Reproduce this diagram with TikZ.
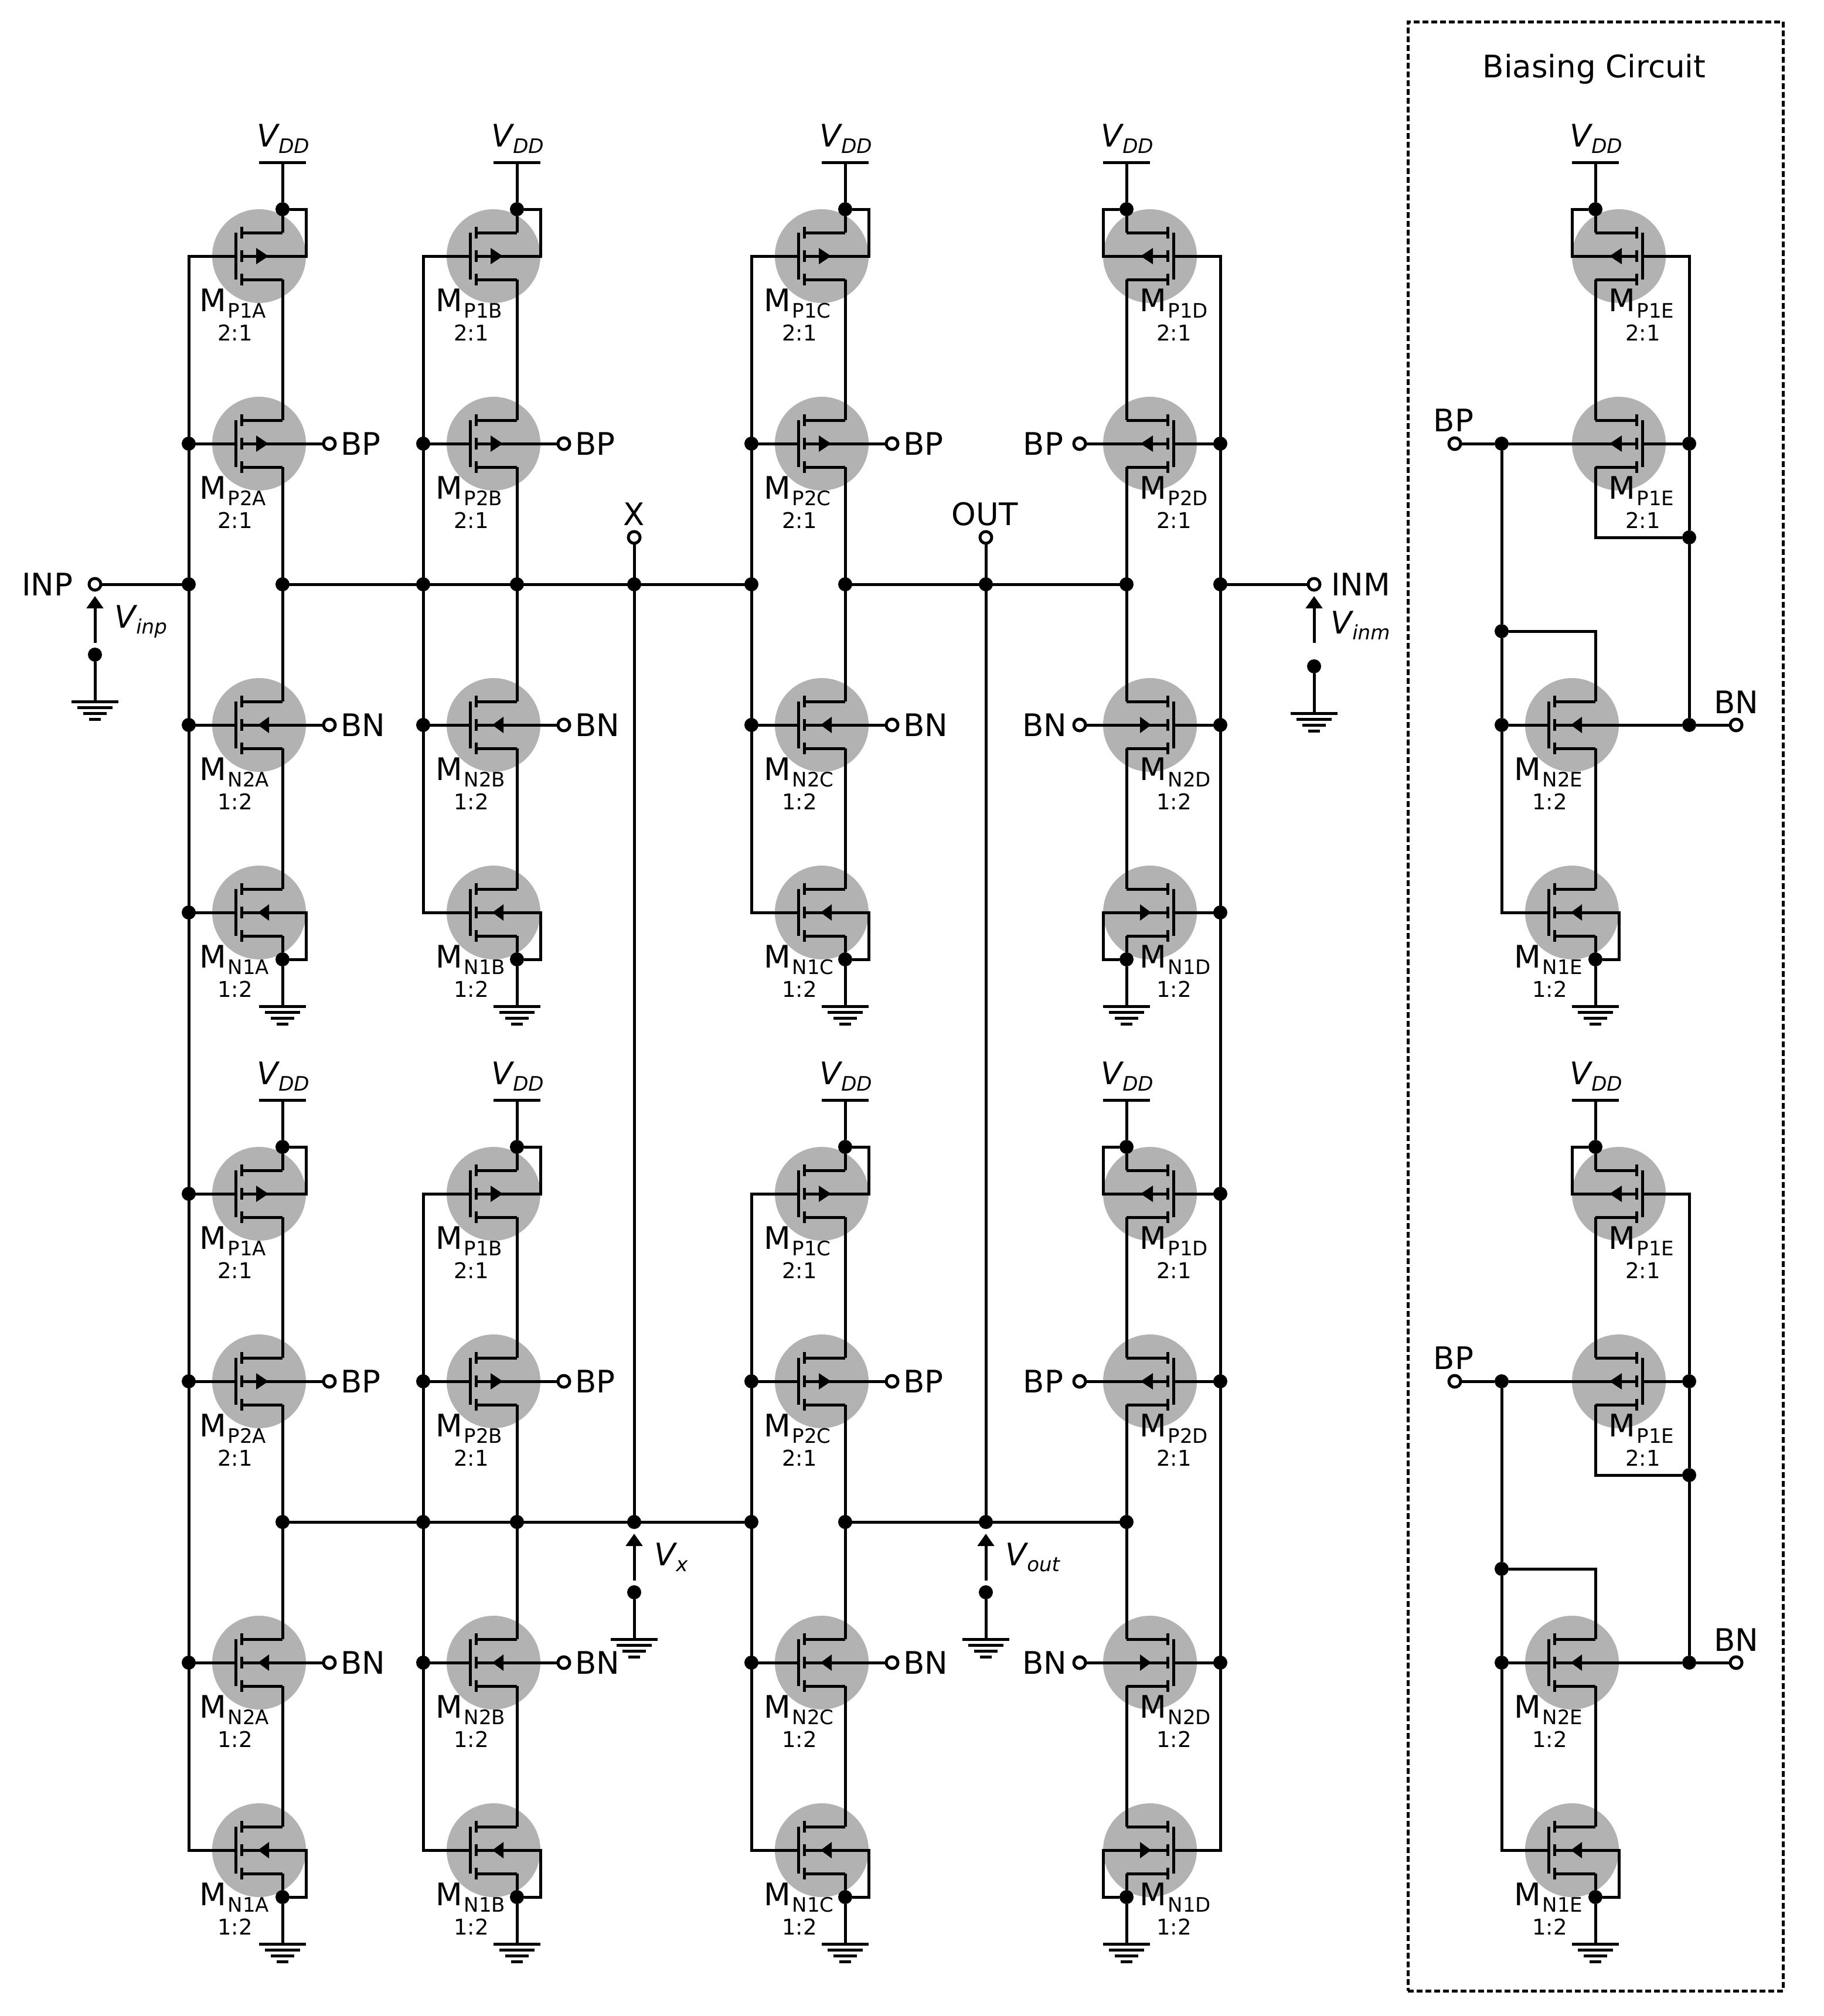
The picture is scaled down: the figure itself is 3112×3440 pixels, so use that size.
\documentclass[tikz,border=0pt]{standalone}
\usepackage{fontspec}
\setmainfont{DejaVu Sans}
\usetikzlibrary{arrows.meta}
\definecolor{discgray}{HTML}{B2B2B2}
\tikzset{
  wire/.style={line width=5pt,line join=miter,draw=black},
  fetdisc/.style={circle,fill=discgray,minimum size=160pt,inner sep=0pt,outer sep=0pt},
  junct/.style={circle,fill=black,minimum size=24pt,inner sep=0pt,outer sep=0pt},
  term/.style={circle,draw=black,fill=white,line width=5pt,minimum size=20pt,inner sep=0pt,outer sep=0pt},
  bigtxt/.style={inner sep=0pt,outer sep=0pt,font=\fontsize{53}{60}\selectfont},
  ratiotxt/.style={inner sep=0pt,outer sep=0pt,anchor=base,font=\fontsize{37}{44}\selectfont},
  meterarrow/.style={wire,-{Triangle[length=21pt,width=28pt]}},
}
\newcommand{\lsx}{0}
\newcommand{\subtxt}[2]{\lower#1pt\hbox{\fontsize{34}{40}\selectfont #2}}
% #1 name, #2 cx, #3 cy, #4 side (1 gate left, -1 gate right), #5 arrow (1 away from gate, -1 to gate), #6 subscript, #7 ratio
\newcommand{\fet}[7]{%
  \node[fetdisc] (#1) at (#2,#3) {};
  \coordinate (#1-gate) at (#2-40*#4,#3);
  \coordinate (#1-bulk) at (#2-30*#4,#3);
  \coordinate (#1-top) at (#2+40*#4,#3-40);
  \coordinate (#1-bot) at (#2+40*#4,#3+40);
  \draw[wire] (#2-40*#4,#3-40) -- (#2-40*#4,#3+40);
  \draw[wire] (#2-30*#4,#3-50) -- (#2-30*#4,#3-30);
  \draw[wire] (#2-30*#4,#3-10) -- (#2-30*#4,#3+10);
  \draw[wire] (#2-30*#4,#3+30) -- (#2-30*#4,#3+50);
  \draw[wire] (#2-30*#4,#3-40) -- (#1-top);
  \draw[wire] (#2-30*#4,#3+40) -- (#1-bot);
  \fill[black] (#2+#4*7+#4*9*#5,#3) -- (#2+#4*6-#4*11*#5,#3-14) -- (#2+#4*6-#4*11*#5,#3+14) -- cycle;
  \node[bigtxt,anchor=base west] (#1-name) at (#2-60-42*#4+\lsx,#3+94) {M\kern3pt\subtxt{11}{#6}};
  \node[ratiotxt] (#1-ratio) at (#2-41*#4+\lsx,#3+144) {#7};
}
% #1 name, #2 x, #3 y
\newcommand{\gnd}[3]{%
  \coordinate (#1) at (#2,#3);
  \draw[wire] (#2-40,#3) -- (#2+40,#3);
  \draw[wire] (#2-30,#3+10) -- (#2+30,#3+10);
  \draw[wire] (#2-20,#3+20) -- (#2+20,#3+20);
  \draw[wire] (#2-10,#3+30) -- (#2+10,#3+30);
}
% #1 name, #2 x, #3 y
\newcommand{\vdd}[3]{%
  \coordinate (#1) at (#2,#3);
  \draw[wire] (#2-40,#3) -- (#2+40,#3);
  \node[bigtxt,anchor=base west] (#1-txt) at (#2-44,#3-27) {\itshape V\kern1pt\subtxt{11}{DD}};
}
% one column of four transistors: #1 tag, #2 letter, #3 cx, #4 side, #5 vertical offset
\newcommand{\stage}[5]{%
  \fet{#1p1}{#3}{437+#5}{#4}{1}{P1#2}{2:1}
  \fet{#1p2}{#3}{757+#5}{#4}{1}{P2#2}{2:1}
  \fet{#1n2}{#3}{1237+#5}{#4}{-1}{N2#2}{1:2}
  \fet{#1n1}{#3}{1557+#5}{#4}{-1}{N1#2}{1:2}
  \vdd{#1vdd}{#3+40*#4}{277+#5}
  \gnd{#1gnd}{#3+40*#4}{1717+#5}
  \node[junct] (#1vj) at (#3+40*#4,357+#5) {};
  \node[junct] (#1gj) at (#3+40*#4,1637+#5) {};
  \node[term] (#1hp) at (#3+120*#4,757+#5) {};
  \node[term] (#1hn) at (#3+120*#4,1237+#5) {};
  \ifnum#4=1
    \node[bigtxt,anchor=base west] (#1tp) at (#3+139,776+#5) {BP};
    \node[bigtxt,anchor=base west] (#1tn) at (#3+139,1256+#5) {BN};
  \else
    \node[bigtxt,anchor=base east] (#1tp) at (#3-148,776+#5) {BP};
    \node[bigtxt,anchor=base east] (#1tn) at (#3-142,1256+#5) {BN};
  \fi
  \coordinate (#1rp1) at (#3-120*#4,437+#5);
  \coordinate (#1rp2) at (#3-120*#4,757+#5);
  \coordinate (#1bl) at (#3-120*#4,997+#5);
  \coordinate (#1rn2) at (#3-120*#4,1237+#5);
  \coordinate (#1rn1) at (#3-120*#4,1557+#5);
  \coordinate (#1br) at (#3+40*#4,997+#5);
  \coordinate (#1tb) at (#3+80*#4,437+#5);
  \coordinate (#1tt) at (#3+80*#4,357+#5);
  \coordinate (#1ub) at (#3+80*#4,1557+#5);
  \coordinate (#1ut) at (#3+80*#4,1637+#5);
  \draw[wire] (#1vdd) -- (#1vj) -- (#1p1-top);
  \draw[wire] (#1p1-bulk) -- (#1tb) -- (#1tt) -- (#1vj);
  \draw[wire] (#1p1-bot) -- (#1p2-top);
  \draw[wire] (#1p2-bulk) -- (#1hp);
  \draw[wire] (#1p2-bot) -- (#1n2-top);
  \draw[wire] (#1n2-bulk) -- (#1hn);
  \draw[wire] (#1n2-bot) -- (#1n1-top);
  \draw[wire] (#1n1-bulk) -- (#1ub) -- (#1ut) -- (#1gj);
  \draw[wire] (#1n1-bot) -- (#1gj) -- (#1gnd);
  \draw[wire] (#1p2-gate) -- (#1rp2);
  \draw[wire] (#1n2-gate) -- (#1rn2);
}
% source meter: #1 name, #2 x, #3 top y, #4 dot y, #5 ground y
\newcommand{\meter}[5]{%
  \coordinate (#1s) at (#2,#3+80);
  \coordinate (#1e) at (#2,#3);
  \node[junct] (#1j) at (#2,#4) {};
  \gnd{#1g}{#2}{#5}
  \draw[meterarrow] (#1s) -- (#1e);
  \draw[wire] (#1j) -- (#1g);
}
% biasing column: #1 tag, #2 vertical offset
\newcommand{\biascol}[2]{%
  \fet{#1p1}{2762}{437+#2}{-1}{1}{P1E}{2:1}
  \fet{#1p2}{2762}{757+#2}{-1}{1}{P1E}{2:1}
  \renewcommand{\lsx}{3}%
  \fet{#1n2}{2682}{1237+#2}{1}{-1}{N2E}{1:2}
  \fet{#1n1}{2682}{1557+#2}{1}{-1}{N1E}{1:2}
  \renewcommand{\lsx}{0}%
  \vdd{#1vdd}{2722}{277+#2}
  \gnd{#1gnd}{2722}{1717+#2}
  \node[junct] (#1vj) at (2722,357+#2) {};
  \node[junct] (#1gj) at (2722,1637+#2) {};
  \node[junct] (#1jbp) at (2562,757+#2) {};
  \node[junct] (#1jd) at (2562,1077+#2) {};
  \node[junct] (#1jn) at (2562,1237+#2) {};
  \node[junct] (#1jr) at (2882,757+#2) {};
  \node[junct] (#1jq) at (2882,917+#2) {};
  \node[junct] (#1jb) at (2882,1237+#2) {};
  \node[term] (#1hp) at (2482,757+#2) {};
  \node[term] (#1hn) at (2962,1237+#2) {};
  \node[bigtxt,anchor=base] (#1tp) at (2480,736+#2) {BP};
  \node[bigtxt,anchor=base] (#1tn) at (2962,1217+#2) {BN};
  \coordinate (#1tb) at (2682,437+#2);
  \coordinate (#1tt) at (2682,357+#2);
  \coordinate (#1ub) at (2762,1557+#2);
  \coordinate (#1ut) at (2762,1637+#2);
  \coordinate (#1rt) at (2882,437+#2);
  \coordinate (#1qc) at (2722,917+#2);
  \coordinate (#1dc) at (2722,1077+#2);
  \coordinate (#1rb) at (2562,1557+#2);
  \draw[wire] (#1vdd) -- (#1vj) -- (#1p1-top);
  \draw[wire] (#1p1-bulk) -- (#1tb) -- (#1tt) -- (#1vj);
  \draw[wire] (#1p1-bot) -- (#1p2-top);
  \draw[wire] (#1p1-gate) -- (#1rt) -- (#1jr) -- (#1jq) -- (#1jb);
  \draw[wire] (#1p2-gate) -- (#1jr);
  \draw[wire] (#1p2-bot) -- (#1qc) -- (#1jq);
  \draw[wire] (#1hp) -- (#1jbp) -- (#1p2-bulk);
  \draw[wire] (#1jbp) -- (#1jd) -- (#1jn);
  \draw[wire] (#1jn) -- (#1rb) -- (#1n1-gate);
  \draw[wire] (#1jd) -- (#1dc) -- (#1n2-top);
  \draw[wire] (#1n2-gate) -- (#1jn);
  \draw[wire] (#1n2-bulk) -- (#1jb) -- (#1hn);
  \draw[wire] (#1n2-bot) -- (#1n1-top);
  \draw[wire] (#1n1-bulk) -- (#1ub) -- (#1ut) -- (#1gj);
  \draw[wire] (#1n1-bot) -- (#1gj) -- (#1gnd);
}
\begin{document}
\begin{tikzpicture}[x=1pt,y=-1pt]
\useasboundingbox[fill=white] (0,0) rectangle (3112,3440);

\stage{a1}{A}{442}{1}{0}
\stage{a2}{A}{442}{1}{1600}
\renewcommand{\lsx}{3}
\stage{b1}{B}{842}{1}{0}
\stage{c1}{C}{1402}{1}{0}
\stage{b2}{B}{842}{1}{1600}
\stage{c2}{C}{1402}{1}{1600}
\renewcommand{\lsx}{0}
\stage{d1}{D}{1962}{-1}{0}
\stage{d2}{D}{1962}{-1}{1600}

% gate rails
\draw[wire] (a1p1-gate) -- (a1rp1) -- (a2rn1) -- (a2n1-gate);
\draw[wire] (a1n1-gate) -- (a1rn1);
\draw[wire] (a2p1-gate) -- (a2rp1);
\draw[wire] (d1p1-gate) -- (d1rp1) -- (d2rn1) -- (d2n1-gate);
\draw[wire] (d1n1-gate) -- (d1rn1);
\draw[wire] (d2p1-gate) -- (d2rp1);
\draw[wire] (b1p1-gate) -- (b1rp1) -- (b1rn1) -- (b1n1-gate);
\draw[wire] (b2p1-gate) -- (b2rp1) -- (b2rn1) -- (b2n1-gate);
\draw[wire] (c1p1-gate) -- (c1rp1) -- (c1rn1) -- (c1n1-gate);
\draw[wire] (c2p1-gate) -- (c2rp1) -- (c2rn1) -- (c2n1-gate);

% terminals and buses
\node[term] (inp) at (162,997) {};
\node[term] (inm) at (2242,997) {};
\node[term] (xout) at (1082,917) {};
\node[term] (oout) at (1682,917) {};
\coordinate (x1) at (1082,997);
\coordinate (x2) at (1082,2597);
\coordinate (o1) at (1682,997);
\coordinate (o2) at (1682,2597);
\draw[wire] (inp) -- (a1bl);
\draw[wire] (a1br) -- (b1bl) -- (b1br) -- (x1) -- (c1bl);
\draw[wire] (c1br) -- (o1) -- (d1br);
\draw[wire] (d1bl) -- (inm);
\draw[wire] (a2br) -- (b2bl) -- (b2br) -- (x2) -- (c2bl);
\draw[wire] (c2br) -- (o2) -- (d2br);
\draw[wire] (xout) -- (x1) -- (x2);
\draw[wire] (oout) -- (o1) -- (o2);

% junction dots
\foreach \n in {a1rp2,a1bl,a1rn2,a1rn1,a1br,a2rp1,a2rp2,a2rn2,a2br,
                b1rp2,b1bl,b1rn2,b1br,b2rp2,b2bl,b2rn2,b2br,
                c1rp2,c1bl,c1rn2,c1br,c2rp2,c2bl,c2rn2,c2br,
                d1rp2,d1bl,d1rn2,d1rn1,d1br,d2rp1,d2rp2,d2rn2,d2br,
                x1,x2,o1,o2}{
  \node[junct] (j\n) at (\n) {};
}

% voltage sources
\meter{mp}{162}{1017}{1117}{1197}
\meter{mm}{2242}{1017}{1137}{1217}
\meter{mx}{1082}{2617}{2717}{2797}
\meter{mo}{1682}{2617}{2717}{2797}

% text labels
\node[bigtxt,anchor=base west] (tinp) at (37,1016) {INP};
\node[bigtxt,anchor=base west] (tinm) at (2271,1016) {INM};
\node[bigtxt,anchor=base] (tx) at (1082,896) {X};
\node[bigtxt,anchor=base] (tout) at (1680,896) {OUT};
\node[bigtxt,anchor=base west] (tvinp) at (195,1071) {\itshape V\kern1pt\subtxt{10}{inp}};
\node[bigtxt,anchor=base west] (tvinm) at (2270,1081) {\itshape V\kern1pt\subtxt{10}{inm}};
\node[bigtxt,anchor=base west] (tvx) at (1116,2671) {\itshape V\kern1pt\subtxt{10}{x}};
\node[bigtxt,anchor=base west] (tvout) at (1715,2671) {\itshape V\kern1pt\subtxt{10}{out}};

% biasing circuit
\node[draw=black,line width=5pt,dash pattern=on 10pt off 5pt,minimum width=640pt,minimum height=3360pt,inner sep=0pt,outer sep=0pt] (biasbox) at (2722,1717) {};
\node[bigtxt,anchor=base] (biastitle) at (2720,132) {Biasing Circuit};
\biascol{e1}{0}
\biascol{e2}{1600}
\end{tikzpicture}
\end{document}
